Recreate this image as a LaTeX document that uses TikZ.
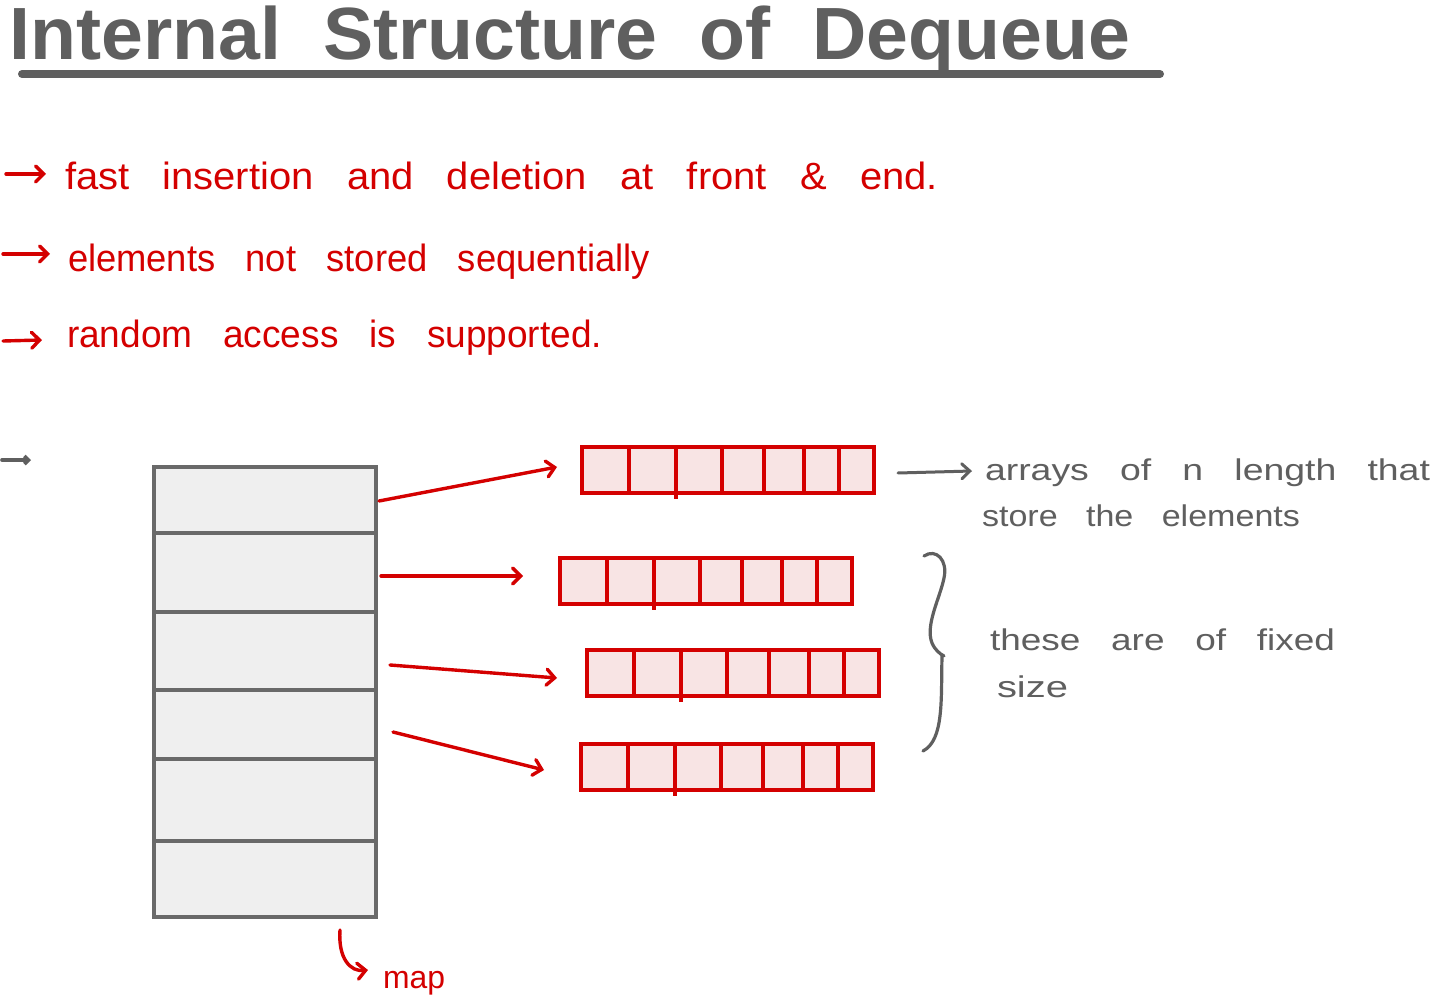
\documentclass[tikz,border=0pt]{standalone}
\usepackage{fontspec}
\setmainfont{Liberation Sans}
\newfontfamily\handfont[WordSpace=2.2]{Liberation Sans}
\newfontfamily\notefont[WordSpace=3]{Liberation Sans}
\newfontfamily\headfont[WordSpace=2]{Liberation Sans Bold}
\usetikzlibrary{arrows.meta}
\definecolor{inkred}{RGB}{212,0,0}
\definecolor{inkgray}{RGB}{95,95,95}
\definecolor{boxline}{RGB}{105,105,105}
\definecolor{mapfill}{RGB}{239,239,239}
\definecolor{arrfill}{RGB}{248,228,228}
\newcommand{\fitw}[2]{\resizebox{#1}{\height}{#2}}
\tikzset{
  txt/.style={anchor=base west, inner sep=0pt, outer sep=0pt},
  redtxt/.style={txt, text=inkred, font=\handfont\fontsize{38}{40}\selectfont},
  graytxt/.style={txt, text=inkgray, font=\notefont\fontsize{30}{32}\selectfont},
  titletxt/.style={txt, text=inkgray, font=\headfont\fontsize{74}{80}\selectfont},
  arrbox/.style={draw=inkred, fill=arrfill, line width=3.6pt, minimum width=292pt, minimum height=46pt, anchor=north west, inner sep=0pt, outer sep=0pt},
  arrdiv/.style={draw=inkred, line width=3.4pt},
  mapcell/.style={draw=boxline, fill=mapfill, line width=3.4pt, minimum width=222pt, anchor=north west, inner sep=0pt, outer sep=0pt},
  redarrow/.style={draw=inkred, line width=3.4pt, line cap=round, -{Straight Barb[length=8pt,width=16pt,line cap=round]}},
  grayarrow/.style={draw=inkgray, line width=3pt, line cap=round, -{Straight Barb[length=8pt,width=15pt,line cap=round]}},
  bracestroke/.style={draw=inkgray, line width=3.2pt, line cap=round},
}
\begin{document}
\begin{tikzpicture}[x=1pt,y=-1pt]
\useasboundingbox[fill=white] (0,0) rectangle (1436,1000);

% title
\node[titletxt] (title) at (10,60) {\fitw{1120pt}{Internal Structure of Dequeue}};
\draw[draw=inkgray, line width=8pt, line cap=round] (22,74) -- (1160,74);

% bullet points
\node[redtxt] (p1) at (65,190) {\fitw{873pt}{fast insertion and deletion at front \& end.}};
\node[redtxt] (p2) at (68,272) {\fitw{582pt}{elements not stored sequentially}};
\node[redtxt] (p3) at (67,348) {\fitw{535pt}{random access is supported.}};
\coordinate (b1) at (6,174);
\coordinate (b2) at (3,254);
\coordinate (b3) at (3,341);
\draw[redarrow] (b1) -- ([xshift=-19pt,yshift=16pt]p1.base west);
\draw[redarrow] (b2) -- ([xshift=-18pt,yshift=18pt]p2.base west);
\draw[redarrow] (b3) -- ([xshift=-25pt,yshift=8pt]p3.base west);

% stray bullet
\coordinate (g0) at (2,460);
\coordinate (g1) at (31,460);
\draw[grayarrow, line width=3.6pt, -{Straight Barb[length=4pt,width=8pt]}] (g0) -- (g1);

% map
\node[mapcell, minimum height=66pt] (c1) at (154,467) {};
\node[mapcell, minimum height=79pt] (c2) at (154,533) {};
\node[mapcell, minimum height=78pt] (c3) at (154,612) {};
\node[mapcell, minimum height=69pt] (c4) at (154,690) {};
\node[mapcell, minimum height=82pt] (c5) at (154,759) {};
\node[mapcell, minimum height=76pt] (c6) at (154,841) {};

% arrays
\node[arrbox] (a1) at (582,447) {};
\node[arrbox] (a2) at (560,558) {};
\node[arrbox] (a3) at (587,650) {};
\node[arrbox] (a4) at (581,744) {};
\foreach \n in {a1,a2,a3,a4}{
  \foreach \d in {47,140,182,222,257}
    \draw[arrdiv] ([xshift=\d pt]\n.north west) -- ([xshift=\d pt, yshift=-2pt]\n.south west);
  \draw[arrdiv] ([xshift=94pt]\n.north west) -- ([xshift=94pt, yshift=-6pt]\n.south west);
}

% map -> arrays
\draw[redarrow] ([xshift=3pt,yshift=-1pt]c1.east) -- ([xshift=-25pt,yshift=3pt]a1.west);
\draw[redarrow] ([xshift=5pt,yshift=-3.5pt]c2.east) -- ([xshift=-37pt,yshift=5pt]a2.west);
\draw[redarrow] ([xshift=14pt,yshift=-14pt]c3.east) -- ([xshift=-30pt,yshift=-5pt]a3.west);
\draw[redarrow] ([xshift=17pt,yshift=-7.5pt]c4.east) -- ([xshift=-37pt,yshift=-3pt]a4.west);

% map label
\node[redtxt, font=\handfont\fontsize{32}{34}\selectfont] (m) at (383,988) {\fitw{62pt}{map}};
\draw[redarrow] ([xshift=-36pt,yshift=-13pt]c6.south east) .. controls +(-2,28) and +(-18,2) .. ([xshift=-15pt,yshift=18pt]m.base west);

% notes
\node[graytxt] (n1) at (985,480) {\fitw{445pt}{arrays of n length that}};
\node[graytxt] (n2) at (982,526) {\fitw{318pt}{store the elements}};
\node[graytxt] (n3) at (990,650) {\fitw{345pt}{these are of fixed}};
\node[graytxt] (n4) at (997,697) {\fitw{71pt}{size}};
\draw[grayarrow] ([xshift=24pt,yshift=-3pt]a1.east) -- ([xshift=-13pt,yshift=9pt]n1.base west);

% brace
\draw[bracestroke] (924,556) .. controls (936,548) and (948,560) .. (944,578)
  .. controls (940,598) and (925,625) .. (932,643)
  .. controls (935,650) and (940,654) .. (944,656);
\draw[bracestroke] (942,656) .. controls (941,700) and (944,740) .. (923,751);
\end{tikzpicture}
\end{document}
